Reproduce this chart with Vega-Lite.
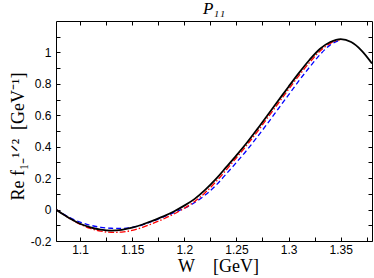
{
  "$schema": "https://vega.github.io/schema/vega-lite/v6.json",
  "width": 316,
  "height": 220,
  "autosize": {"type": "none"},
  "padding": {"left": 56, "top": 21, "right": 2, "bottom": 37},
  "background": "white",
  "title": {"text": "P₁₁", "font": "Liberation Serif", "fontStyle": "italic", "fontWeight": "normal", "fontSize": 17, "color": "black", "anchor": "middle", "offset": 3},
  "config": {
    "view": {"stroke": "black", "strokeWidth": 1},
    "axis": {"domain": false, "grid": false, "tickColor": "black", "tickSize": -4, "labelFont": "Liberation Sans", "labelFontSize": 12, "labelColor": "black", "titleFont": "Liberation Serif", "titleFontWeight": "normal", "titleColor": "black", "titleFontSize": 18}
  },
  "datasets": {
    "curves": [
      {"s": "blue", "W": 1.077, "v": 0}, {"s": "blue", "W": 1.09, "v": -0.05}, {"s": "blue", "W": 1.10, "v": -0.08}, {"s": "blue", "W": 1.11, "v": -0.1}, {"s": "blue", "W": 1.12, "v": -0.113}, {"s": "blue", "W": 1.13, "v": -0.119}, {"s": "blue", "W": 1.14, "v": -0.12}, {"s": "blue", "W": 1.15, "v": -0.113}, {"s": "blue", "W": 1.16, "v": -0.097}, {"s": "blue", "W": 1.17, "v": -0.073}, {"s": "blue", "W": 1.18, "v": -0.047}, {"s": "blue", "W": 1.19, "v": -0.02}, {"s": "blue", "W": 1.20, "v": 0.008}, {"s": "blue", "W": 1.21, "v": 0.045}, {"s": "blue", "W": 1.22, "v": 0.092}, {"s": "blue", "W": 1.23, "v": 0.152}, {"s": "blue", "W": 1.24, "v": 0.225}, {"s": "blue", "W": 1.25, "v": 0.30}, {"s": "blue", "W": 1.26, "v": 0.378}, {"s": "blue", "W": 1.27, "v": 0.462}, {"s": "blue", "W": 1.28, "v": 0.55}, {"s": "blue", "W": 1.29, "v": 0.64}, {"s": "blue", "W": 1.30, "v": 0.73}, {"s": "blue", "W": 1.31, "v": 0.82}, {"s": "blue", "W": 1.32, "v": 0.905}, {"s": "blue", "W": 1.33, "v": 0.985}, {"s": "blue", "W": 1.34, "v": 1.048}, {"s": "blue", "W": 1.35, "v": 1.08},
      {"s": "red", "W": 1.077, "v": 0}, {"s": "red", "W": 1.09, "v": -0.057}, {"s": "red", "W": 1.10, "v": -0.093}, {"s": "red", "W": 1.11, "v": -0.12}, {"s": "red", "W": 1.12, "v": -0.137}, {"s": "red", "W": 1.13, "v": -0.145}, {"s": "red", "W": 1.14, "v": -0.143}, {"s": "red", "W": 1.15, "v": -0.132}, {"s": "red", "W": 1.16, "v": -0.113}, {"s": "red", "W": 1.17, "v": -0.088}, {"s": "red", "W": 1.18, "v": -0.06}, {"s": "red", "W": 1.19, "v": -0.028}, {"s": "red", "W": 1.20, "v": 0.008}, {"s": "red", "W": 1.21, "v": 0.052}, {"s": "red", "W": 1.22, "v": 0.107}, {"s": "red", "W": 1.23, "v": 0.175}, {"s": "red", "W": 1.24, "v": 0.25}, {"s": "red", "W": 1.25, "v": 0.33}, {"s": "red", "W": 1.26, "v": 0.41}, {"s": "red", "W": 1.27, "v": 0.495}, {"s": "red", "W": 1.28, "v": 0.585}, {"s": "red", "W": 1.29, "v": 0.675}, {"s": "red", "W": 1.30, "v": 0.765}, {"s": "red", "W": 1.31, "v": 0.853}, {"s": "red", "W": 1.32, "v": 0.935}, {"s": "red", "W": 1.33, "v": 1.008}, {"s": "red", "W": 1.34, "v": 1.058}, {"s": "red", "W": 1.35, "v": 1.083},
      {"s": "black", "W": 1.077, "v": 0}, {"s": "black", "W": 1.085, "v": -0.035}, {"s": "black", "W": 1.09, "v": -0.055}, {"s": "black", "W": 1.10, "v": -0.09}, {"s": "black", "W": 1.11, "v": -0.113}, {"s": "black", "W": 1.12, "v": -0.128}, {"s": "black", "W": 1.13, "v": -0.134}, {"s": "black", "W": 1.14, "v": -0.129}, {"s": "black", "W": 1.15, "v": -0.115}, {"s": "black", "W": 1.16, "v": -0.095}, {"s": "black", "W": 1.17, "v": -0.07}, {"s": "black", "W": 1.18, "v": -0.043}, {"s": "black", "W": 1.19, "v": -0.012}, {"s": "black", "W": 1.20, "v": 0.025}, {"s": "black", "W": 1.21, "v": 0.068}, {"s": "black", "W": 1.22, "v": 0.125}, {"s": "black", "W": 1.23, "v": 0.192}, {"s": "black", "W": 1.24, "v": 0.268}, {"s": "black", "W": 1.25, "v": 0.345}, {"s": "black", "W": 1.26, "v": 0.425}, {"s": "black", "W": 1.27, "v": 0.512}, {"s": "black", "W": 1.28, "v": 0.602}, {"s": "black", "W": 1.29, "v": 0.692}, {"s": "black", "W": 1.30, "v": 0.782}, {"s": "black", "W": 1.31, "v": 0.87}, {"s": "black", "W": 1.32, "v": 0.952}, {"s": "black", "W": 1.33, "v": 1.022}, {"s": "black", "W": 1.34, "v": 1.066}, {"s": "black", "W": 1.35, "v": 1.085}, {"s": "black", "W": 1.36, "v": 1.066}, {"s": "black", "W": 1.37, "v": 1.012}, {"s": "black", "W": 1.38, "v": 0.93}
    ]
  },
  "data": {"name": "curves"},
  "resolve": {"axis": {"x": "independent", "y": "independent"}},
  "layer": [
    {
      "transform": [{"filter": "datum.s === 'blue'"}],
      "mark": {"type": "line", "color": "#0000ff", "strokeWidth": 1.3, "strokeDash": [5, 3], "interpolate": "monotone", "clip": true},
      "encoding": {
        "x": {"field": "W", "type": "quantitative", "scale": {"domain": [1.077, 1.38], "nice": false, "zero": false},
          "axis": {"orient": "bottom", "values": [1.1, 1.125, 1.15, 1.175, 1.2, 1.225, 1.25, 1.275, 1.3, 1.325, 1.35, 1.375], "labelExpr": "abs(datum.value*20 - round(datum.value*20)) < 0.001 ? format(datum.value, '.2~f') : ''", "labelPadding": 7, "labelFlush": false, "labelOverlap": false, "title": "W\u2002\u2002[GeV]", "titleX": 162, "titleY": 34, "titleBaseline": "bottom", "titleAlign": "center"}},
        "y": {"field": "v", "type": "quantitative", "scale": {"domain": [-0.2, 1.2], "nice": false, "zero": false},
          "axis": {"orient": "left", "values": [-0.2, -0.1, 0, 0.1, 0.2, 0.3, 0.4, 0.5, 0.6, 0.7, 0.8, 0.9, 1.0, 1.1], "labelExpr": "abs(datum.value*5 - round(datum.value*5)) < 0.001 ? replace(format(datum.value, '.1~f'), '−', '-') : ''", "labelPadding": 9, "labelFlush": false, "labelOverlap": false, "title": "Re f₁₋¹ᐟ²\u2002[GeV⁻¹]", "titleX": -29, "titleY": 115, "titleBaseline": "bottom", "titleAlign": "center", "titleAngle": -90}}
      }
    },
    {
      "transform": [{"filter": "datum.s === 'red'"}],
      "mark": {"type": "line", "color": "#ff0000", "strokeWidth": 1.3, "strokeDash": [6, 2, 1.5, 2], "interpolate": "monotone", "clip": true},
      "encoding": {
        "x": {"field": "W", "type": "quantitative", "scale": {"domain": [1.077, 1.38], "nice": false, "zero": false},
          "axis": {"orient": "top", "values": [1.1, 1.125, 1.15, 1.175, 1.2, 1.225, 1.25, 1.275, 1.3, 1.325, 1.35, 1.375], "labels": false, "title": null}},
        "y": {"field": "v", "type": "quantitative", "scale": {"domain": [-0.2, 1.2], "nice": false, "zero": false},
          "axis": {"orient": "right", "values": [-0.2, -0.1, 0, 0.1, 0.2, 0.3, 0.4, 0.5, 0.6, 0.7, 0.8, 0.9, 1.0, 1.1], "labels": false, "title": null}}
      }
    },
    {
      "transform": [{"filter": "datum.s === 'black'"}],
      "mark": {"type": "line", "color": "#000000", "strokeWidth": 1.8, "interpolate": "monotone", "clip": true},
      "encoding": {
        "x": {"field": "W", "type": "quantitative", "scale": {"domain": [1.077, 1.38], "nice": false, "zero": false}, "axis": null},
        "y": {"field": "v", "type": "quantitative", "scale": {"domain": [-0.2, 1.2], "nice": false, "zero": false}, "axis": null}
      }
    }
  ]
}
